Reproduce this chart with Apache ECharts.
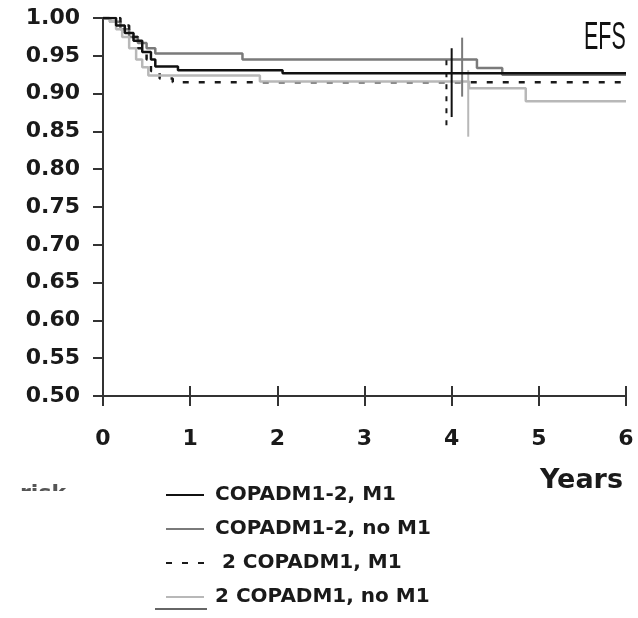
<!DOCTYPE html>
<html>
<head>
<meta charset="utf-8">
<title>EFS</title>
<script src="https://cdn.jsdelivr.net/npm/echarts@6/dist/echarts.min.js"></script>
<style>
  html, body { margin: 0; padding: 0; background: #fff; }
  #main { width: 638px; height: 618px; }
</style>
</head>
<body>
<div id="main"></div>
<script>
// curve names (legend order)
var names = ['COPADM1-2, M1', 'COPADM1-2, no M1', ' 2 COPADM1, M1', '2 COPADM1, no M1'];

// COPADM1-2, M1 (black)
var tBothM1 = [0, 0.15, 0.25, 0.35, 0.45, 0.55, 0.6, 0.86, 2.06, 6];
var sBothM1 = [1.0, 0.99, 0.98, 0.97, 0.955, 0.945, 0.936, 0.931, 0.927, 0.927];

// COPADM1-2, no M1 (mid gray)
var tBothNoM1 = [0, 0.08, 0.2, 0.3, 0.4, 0.5, 0.6, 1.6, 4.29, 4.58, 6];
var sBothNoM1 = [1.0, 0.995, 0.985, 0.975, 0.967, 0.96, 0.953, 0.945, 0.934, 0.925, 0.925];

// 2 COPADM1, M1 (dashed)
var tTwoM1 = [0, 0.2, 0.3, 0.4, 0.5, 0.55, 0.65, 0.8, 6];
var sTwoM1 = [1.0, 0.99, 0.975, 0.96, 0.945, 0.93, 0.92, 0.915, 0.915];

// 2 COPADM1, no M1 (light gray)
var tTwoNoM1 = [0, 0.08, 0.15, 0.22, 0.3, 0.38, 0.45, 0.52, 1.8, 4.2, 4.85, 6];
var sTwoNoM1 = [1.0, 0.995, 0.985, 0.975, 0.96, 0.945, 0.935, 0.924, 0.916, 0.907, 0.89, 0.89];

// vertical bars near 4 years (same order as names)
var barT = [4.0, 4.12, 3.94, 4.19];
var barLow = [0.869, 0.896, 0.858, 0.843];
var barHigh = [0.960, 0.974, 0.944, 0.931];

// axis ticks
var yTicks = { min: 0.5, max: 1.0, step: 0.05 };
var xTicks = { min: 0, max: 6, step: 1 };

var colors = ['#111111', '#7a7a7a', '#1a1a1a', '#b8b8b8'];
var dash = ['solid', 'solid', [6, 10], 'solid'];

function zip(t, s) {
    return t.map(function (v, i) { return [v, s[i]]; });
}

var curves = [zip(tBothM1, sBothM1), zip(tBothNoM1, sBothNoM1), zip(tTwoM1, sTwoM1), zip(tTwoNoM1, sTwoNoM1)];

var series = [];
curves.forEach(function (d, i) {
    series.push({
        name: names[i],
        type: 'line',
        step: 'end',
        symbol: 'none',
        data: d,
        z: i === 0 ? 5 : 3,
        lineStyle: { color: colors[i], width: 2.5, type: dash[i] },
        itemStyle: { color: colors[i] }
    });
});
// vertical bars
barT.forEach(function (t, i) {
    series.push({
        name: 'bar' + i,
        type: 'line',
        symbol: 'none',
        silent: true,
        data: [[t, barLow[i]], [t, barHigh[i]]],
        lineStyle: { color: colors[i], width: 2, type: i === 2 ? [5, 7] : 'solid' }
    });
});

var labelFont = { fontFamily: 'DejaVu Sans', fontWeight: 'bold', fontSize: 22, color: '#1a1a1a' };

var option = {
    animation: false,
    backgroundColor: '#fff',
    grid: { left: 103, right: 12, top: 18, bottom: 222 },
    xAxis: [{
        type: 'value',
        position: 'bottom',
        min: xTicks.min, max: xTicks.max, interval: xTicks.step,
        splitLine: { show: false },
        axisLine: { lineStyle: { color: '#333', width: 2 } },
        axisTick: { length: 10, lineStyle: { color: '#333', width: 2 } },
        axisLabel: Object.assign({ margin: 32 }, labelFont)
    }, {
        type: 'value',
        position: 'bottom',
        min: xTicks.min, max: xTicks.max, interval: xTicks.step,
        splitLine: { show: false },
        axisLine: { show: false },
        axisTick: { inside: true, length: 10, lineStyle: { color: '#333', width: 2 } },
        axisLabel: { show: false }
    }],
    yAxis: {
        type: 'value',
        min: yTicks.min, max: yTicks.max, interval: yTicks.step,
        splitLine: { show: false },
        axisLine: { show: true, lineStyle: { color: '#333', width: 2 } },
        axisTick: { show: true, length: 10, lineStyle: { color: '#333', width: 2 } },
        axisLabel: Object.assign({ margin: 23, formatter: function (v) { return v.toFixed(2); } }, labelFont)
    },
    legend: {
        data: names,
        orient: 'vertical',
        left: 160,
        top: 479,
        itemWidth: 38,
        itemHeight: 14,
        itemGap: 12,
        selectedMode: false,
        // hide the circle symbol of the legend icon, keep the line
        itemStyle: { opacity: 0 },
        textStyle: { fontFamily: 'DejaVu Sans', fontWeight: 'bold', fontSize: 20, color: '#1a1a1a', lineHeight: 22, padding: [0, 0, 0, 6] }
    },
    graphic: [
        { type: 'text', left: 540, top: 467, style: { text: 'Years', font: 'bold 27px "DejaVu Sans"', fill: '#1a1a1a' } },
        { type: 'text', x: 584, y: 19, scaleX: 0.55, style: { text: 'EFS', font: '39px "Liberation Sans"', fill: '#111' } },
        { type: 'text', x: 20, y: 483, style: { text: 'risk', font: 'bold 22px "DejaVu Sans"', fill: '#555' } },
        { type: 'rect', shape: { x: 10, y: 491, width: 100, height: 30 }, style: { fill: '#fff' }, z: 100 },
        { type: 'line', shape: { x1: 155, y1: 609, x2: 207, y2: 609 }, style: { stroke: '#333', lineWidth: 1.5 } }
    ],
    series: series
};

var myChart = echarts.init(document.getElementById('main'));
myChart.setOption(option);
</script>
</body>
</html>
